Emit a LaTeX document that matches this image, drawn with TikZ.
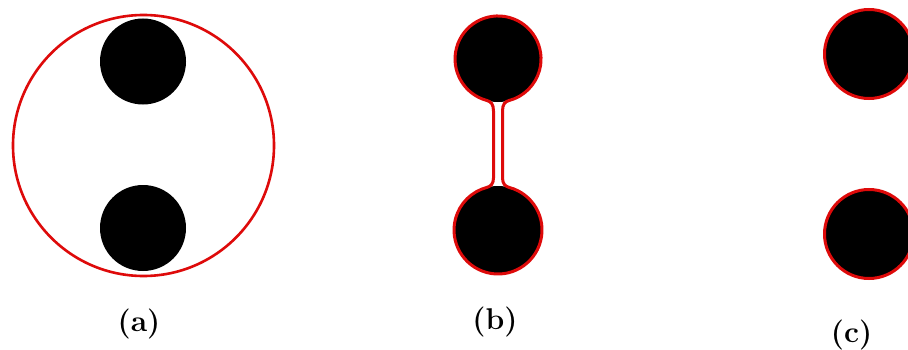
\documentclass[tikz,border=0pt]{standalone}
\usepackage{fontspec}
\definecolor{cred}{RGB}{222,10,10}
\begin{document}
\begin{tikzpicture}[x=1pt,y=1pt,
  outline/.style={draw=cred,line width=3pt},
  blob/.style={fill=black},
  lab/.style={inner sep=0pt,font=\fontsize{30}{34}\selectfont\bfseries}]
\useasboundingbox (0,0) rectangle (908,349);
\fill[white] (0,0) rectangle (908,349);
\clip (0,0) rectangle (908,349);
% panel (a)
\fill[blob] (143,287.5) circle[radius=43];
\fill[blob] (143,121) circle[radius=43];
\draw[outline,line width=2.6pt] (143.5,203.5) circle[radius=130.5];
% panel (b)
\fill[blob] (498,290) circle[radius=43];
\fill[blob] (498,119) circle[radius=44];
\draw[outline] (493.5,238) .. controls (493.5,245) and (490.8,247.5) .. (486.9,248.5)
  arc[start angle=255,end angle=-75,radius=43]
  .. controls (505.2,247.5) and (502.5,245) .. (502.5,238) -- (502.5,171)
  .. controls (502.5,165) and (505.5,162.5) .. (509.4,161.5)
  arc[start angle=75,end angle=-255,radius=44]
  .. controls (490.5,162.5) and (493.5,165) .. (493.5,171) -- cycle;
% panel (c)
\draw[outline,fill=black] (869,295) circle[radius=44.5];
\draw[outline,fill=black] (869,115) circle[radius=44.5];
% labels
\node[lab] (la) at (139,25) {(a)};
\node[lab] (lb) at (495,26.5) {(b)};
\node[lab] (lc) at (851.5,13.5) {(c)};
\end{tikzpicture}
\end{document}
